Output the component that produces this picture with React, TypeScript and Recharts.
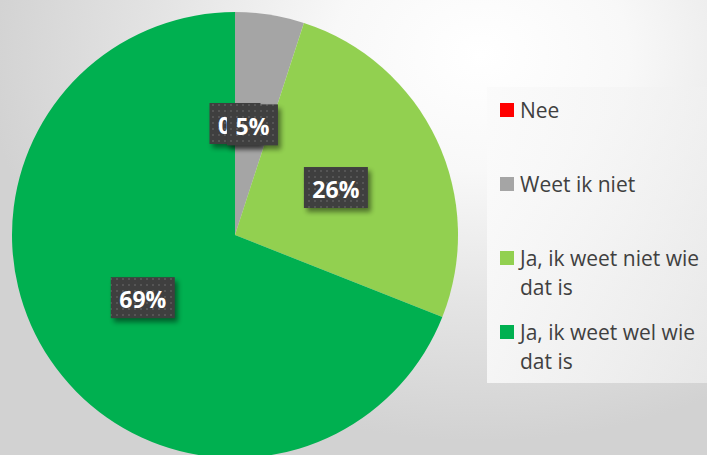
import React from 'react';
import { PieChart, Pie, Cell, Legend } from 'recharts';

// answers (clockwise from the top)
const answers = ['Nee', 'Weet ik niet', 'Ja, ik weet niet wie dat is', 'Ja, ik weet wel wie dat is'];
const shares = [0, 5, 26, 69];
const colors = ['#ff0000', '#a5a5a5', '#92d050', '#00b050'];

const data = answers.map((name, i) => ({ name, value: shares[i] }));

const RAD = Math.PI / 180;

const renderLabel = (props: any) => {
  const { cx, cy, midAngle, outerRadius, index, value } = props;
  const r = outerRadius * 0.5;
  const x = cx + r * Math.cos(-midAngle * RAD);
  const y = cy + r * Math.sin(-midAngle * RAD);
  const text = `${value}%`;
  const w = 25 + 13 * text.length;
  const h = 41;
  return (
    <g key={`lbl-${index}`}>
      <rect x={x - w / 2 + 3} y={y - h / 2 + 4} width={w} height={h} fill="#000" opacity={0.45} filter="url(#lblBlur)" />
      <rect x={x - w / 2} y={y - h / 2} width={w} height={h} fill="url(#dots)" />
      <text
        x={x}
        y={y + 1}
        textAnchor="middle"
        dominantBaseline="central"
        fill="#ffffff"
        fontSize={23}
        fontWeight="bold"
        fontFamily="'Open Sans', sans-serif"
      >
        {text}
      </text>
    </g>
  );
};

// legend keeps the data order (recharts sorts by name otherwise)
const renderLegend = () => (
  <div
    style={{
      width: 220,
      height: 296,
      background: 'linear-gradient(to right, rgba(250,250,250,0.85), rgba(240,240,240,0.7))',
      fontFamily: "'Open Sans', sans-serif",
      fontSize: 21,
      color: '#404040',
    }}
  >
    {answers.map((name, i) => (
      <div key={name} style={{ height: 74, display: 'flex', alignItems: 'flex-start', paddingTop: 9, boxSizing: 'border-box' }}>
        <div style={{ width: 14, height: 14, background: colors[i], marginLeft: 13, marginTop: 7, flexShrink: 0 }} />
        <div style={{ marginLeft: 6, width: 186, lineHeight: '29px', marginTop: 0 }}>{name}</div>
      </div>
    ))}
  </div>
);

export default function App() {
  return (
    <div
      style={{
        position: 'absolute',
        left: 0,
        top: 0,
        width: 707,
        height: 455,
        overflow: 'hidden',
        background: 'radial-gradient(ellipse 70% 85% at 68% 12%, #ffffff 0%, #f8f8f8 30%, #e4e4e4 65%, #d2d2d2 100%)',
      }}
    >
      <PieChart width={707} height={455} margin={{ top: 0, right: 0, bottom: 0, left: 0 }}>
        <defs>
          <pattern id="dots" x="0" y="0" width="6" height="6" patternUnits="userSpaceOnUse">
            <rect x="0" y="0" width="6" height="6" fill="#3f3f3f" />
            <rect x="2" y="2" width="2" height="2" fill="#555555" />
          </pattern>
          <filter id="lblBlur" x="-20%" y="-20%" width="140%" height="140%">
            <feGaussianBlur stdDeviation="2.5" />
          </filter>
        </defs>
        <Pie
          data={data}
          dataKey="value"
          nameKey="name"
          cx={235}
          cy={235}
          outerRadius={223}
          startAngle={90}
          endAngle={-270}
          stroke="none"
          labelLine={false}
          label={renderLabel}
          isAnimationActive={false}
        >
          {data.map((d, i) => (
            <Cell key={d.name} fill={colors[i]} />
          ))}
        </Pie>
        <Legend
          layout="vertical"
          content={renderLegend}
          wrapperStyle={{ left: 487, top: 87, width: 220, height: 296 }}
        />
      </PieChart>
    </div>
  );
}
